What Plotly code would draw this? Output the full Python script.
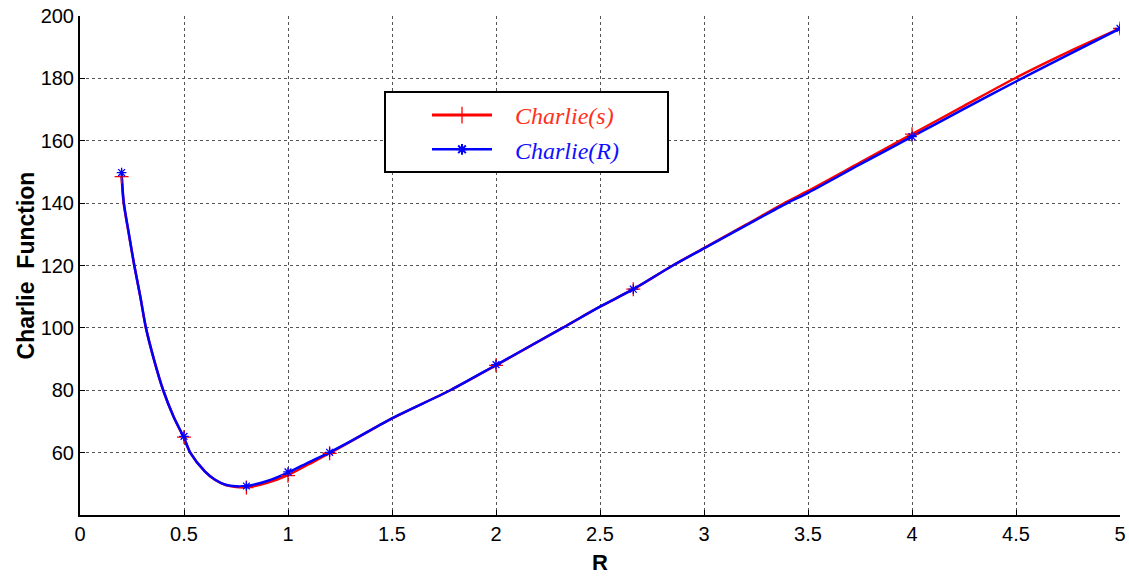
import plotly.graph_objects as go

# Curve samples (R, Charlie function)
r_curve_s = [0.2, 0.21, 0.235, 0.261, 0.29, 0.317, 0.355, 0.40, 0.45, 0.5, 0.53, 0.6, 0.65, 0.7, 0.75, 0.8,
             0.9, 1.0, 1.1, 1.2, 1.3, 1.5, 1.78, 2.0, 2.32, 2.5, 2.66, 2.85, 3.0, 3.2, 3.4, 3.5, 3.75, 4.0,
             4.25, 4.5, 4.75, 5.0]
charlie_s = [148.5, 140.0, 130.0, 120.0, 110.0, 100.0, 90.0, 80.0, 71.5, 64.6, 60.0, 54.0, 51.2, 49.6, 49.0, 48.9,
             50.3, 52.8, 56.3, 59.8, 63.5, 71.0, 80.0, 88.0, 100.0, 106.8, 112.4, 120.0, 125.6, 133.0, 140.5, 143.9,
             153.0, 162.1, 171.2, 180.2, 188.4, 196.0]

r_curve_r = [0.2, 0.21, 0.235, 0.261, 0.29, 0.317, 0.355, 0.40, 0.45, 0.5, 0.53, 0.6, 0.65, 0.7, 0.75, 0.8,
             0.9, 1.0, 1.1, 1.2, 1.3, 1.5, 1.78, 2.0, 2.32, 2.5, 2.66, 2.85, 3.0, 3.2, 3.4, 3.5, 3.75, 4.0,
             4.25, 4.5, 4.75, 5.0]
charlie_r = [149.8, 140.5, 130.2, 120.0, 110.0, 100.0, 90.0, 80.0, 71.5, 64.8, 60.0, 54.0, 51.3, 49.7, 49.2, 49.3,
             50.9, 53.6, 56.9, 60.1, 63.6, 71.0, 80.0, 88.1, 100.0, 106.8, 112.4, 120.0, 125.5, 132.8, 140.0, 143.3,
             152.4, 161.3, 170.2, 179.0, 187.5, 196.0]

# Marked points
r_marks = [0.2, 0.5, 0.8, 1.0, 1.2, 2.0, 2.66, 4.0, 5.0]
marks_s = [148.5, 65.0, 48.8, 52.6, 59.8, 88.0, 112.4, 162.1, 196.0]
marks_r = [149.8, 65.2, 49.3, 53.8, 60.1, 88.2, 112.4, 161.3, 196.0]

x_ticks = [0, 0.5, 1, 1.5, 2, 2.5, 3, 3.5, 4, 4.5, 5]
x_ticktext = ["0", "0.5", "1", "1.5", "2", "2.5", "3", "3.5", "4", "4.5", "5"]
y_ticks = [60, 80, 100, 120, 140, 160, 180, 200]

RED = "#ff0000"
BLUE = "#0000ff"

fig = go.Figure()

# curves
fig.add_trace(go.Scatter(x=r_curve_s, y=charlie_s, mode="lines",
                         line=dict(color=RED, width=2.5, shape="spline", smoothing=0.8),
                         showlegend=False, hoverinfo="skip"))
fig.add_trace(go.Scatter(x=r_curve_r, y=charlie_r, mode="lines",
                         line=dict(color=BLUE, width=2.5, shape="spline", smoothing=0.8),
                         showlegend=False, hoverinfo="skip"))
# markers
fig.add_trace(go.Scatter(x=r_marks, y=marks_s, mode="markers",
                         marker=dict(symbol="cross-thin-open", size=10, color=RED, line=dict(color=RED, width=1.3)),
                         showlegend=False))
fig.add_trace(go.Scatter(x=r_marks, y=marks_r, mode="markers",
                         marker=dict(symbol="asterisk-open", size=8, color=BLUE, line=dict(color=BLUE, width=1.3)),
                         showlegend=False))
# legend entries
fig.add_trace(go.Scatter(x=[None], y=[None], mode="lines+markers",
                         name="\u00a0\u00a0\u00a0<span style='color:#ff3020'><i>Charlie(s)</i></span>",
                         line=dict(color=RED, width=3),
                         marker=dict(symbol="cross-thin-open", size=12, color=RED, line=dict(color=RED, width=1.3))))
fig.add_trace(go.Scatter(x=[None], y=[None], mode="lines+markers",
                         name="\u00a0\u00a0\u00a0<span style='color:#1010ff'><i>Charlie(R)</i></span>",
                         line=dict(color=BLUE, width=2.5),
                         marker=dict(symbol="asterisk-open", size=9, color=BLUE, line=dict(color=BLUE, width=2))))

grid = dict(showgrid=True, gridcolor="#555555", griddash="dot", gridwidth=1.3)

# legend frame (px -> paper fractions of the plot area 80..1120 x 16..515)
def px_x(p):
    return (p - 80) / 1040.0

def px_y(p):
    return (515 - p) / 499.0

fig.add_shape(type="rect", xref="paper", yref="paper",
              x0=px_x(385), x1=px_x(668), y0=px_y(172), y1=px_y(92),
              line=dict(color="black", width=2), fillcolor="white", layer="above")

fig.update_layout(
    width=1129, height=577,
    margin=dict(l=80, r=9, t=16, b=62),
    paper_bgcolor="white", plot_bgcolor="white",
    font=dict(family="Liberation Sans, Arial, sans-serif", color="black", size=20),
    xaxis=dict(range=[0, 5], tickvals=x_ticks, ticktext=x_ticktext, showline=True, linecolor="black",
               linewidth=2, ticks="inside", ticklen=5, tickcolor="black", zeroline=False, automargin=False,
               tickfont=dict(size=20), title=dict(text="<b>R</b>", font=dict(size=22), standoff=11), **grid),
    yaxis=dict(range=[40, 200], tickvals=y_ticks, showline=True, linecolor="black", linewidth=2,
               ticks="inside", ticklen=5, tickcolor="black", zeroline=False, automargin=False,
               tickfont=dict(size=20),
               title=dict(text="<b>Charlie  Function</b>", font=dict(size=23), standoff=0), **grid),
    legend=dict(x=px_x(427), y=px_y(93), xanchor="left", yanchor="top", bgcolor="rgba(0,0,0,0)",
                borderwidth=0,
                font=dict(family="Liberation Serif, DejaVu Serif, serif", size=24),
                itemwidth=60),
)

fig.write_html("out.html", config={"displayModeBar": False},
               post_script="document.body.style.margin='0';")
